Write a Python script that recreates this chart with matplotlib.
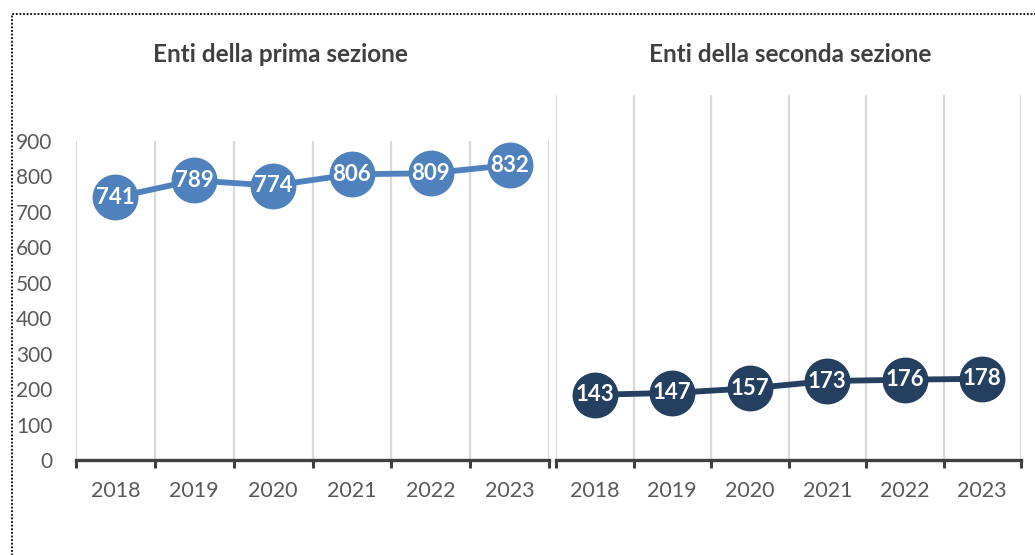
import numpy as np
import matplotlib.pyplot as plt
from matplotlib.patches import Rectangle
from matplotlib.ticker import FixedLocator

years = ["2018", "2019", "2020", "2021", "2022", "2023"]
prima = [741, 789, 774, 806, 809, 832]
seconda = [143, 147, 157, 173, 176, 178]

plt.rcParams['font.family'] = ['Lato', 'DejaVu Sans']

fig = plt.figure(figsize=(10.35, 5.55), dpi=100)
W, H = 1035, 555

def box(x0, x1, ytop, ybot):
    return [x0 / W, 1 - ybot / H, (x1 - x0) / W, (ybot - ytop) / H]

ax1 = fig.add_axes(box(76, 549, 141, 460))
ax2 = fig.add_axes(box(556, 1021, 95, 460))

def style(ax, vals, color, ymax, show_y):
    x = np.arange(len(vals))
    ax.plot(x, vals, color=color, lw=4.2, marker='o', ms=32,
            mfc=color, mec=color, zorder=3, clip_on=False)
    for xi, v in zip(x, vals):
        ax.text(xi, v, str(v), color='white', fontsize=16, fontweight='bold',
                ha='center', va='center', zorder=4)
    ax.set_xlim(-0.5, len(vals) - 0.5)
    ax.set_ylim(0, ymax)
    ax.set_xticks(x)
    ax.set_xticklabels(years)
    ax.xaxis.set_minor_locator(FixedLocator(np.arange(-0.5, len(vals), 1.0)))
    ax.tick_params(axis='x', which='major', length=0, pad=15,
                   labelsize=15.5, labelcolor='#595959')
    ax.tick_params(axis='x', which='minor', length=6, width=2.2,
                   color='#404040', direction='out')
    ax.grid(True, axis='x', which='minor', color='#d9d9d9', lw=1.6)
    ax.grid(False, axis='y')
    for s in ['top', 'right', 'left']:
        ax.spines[s].set_visible(False)
    ax.spines['bottom'].set_color('#404040')
    ax.spines['bottom'].set_linewidth(2.4)
    if show_y:
        ax.set_yticks(np.arange(0, ymax + 1, 100))
        ax.tick_params(axis='y', length=0, pad=17, labelsize=15,
                       labelcolor='#595959')
    else:
        ax.set_yticks([])

style(ax1, prima, '#4f81bd', 900, True)
style(ax2, seconda, '#243f60', 800, False)

fig.text(280 / W, 1 - 55 / H, "Enti della prima sezione", ha='center',
         va='center', fontsize=17.5, fontweight='bold', color='#404040')
fig.text(790 / W, 1 - 55 / H, "Enti della seconda sezione", ha='center',
         va='center', fontsize=17.5, fontweight='bold', color='#404040')

# dotted frame around the chart
fig.patches.append(Rectangle((12 / W, -0.05), 1.1, 1 - 14 / H + 0.05,
                             transform=fig.transFigure, fill=False,
                             ec='black', lw=1.3, ls=(0, (1, 1))))

fig.savefig("out.png", dpi=100)
